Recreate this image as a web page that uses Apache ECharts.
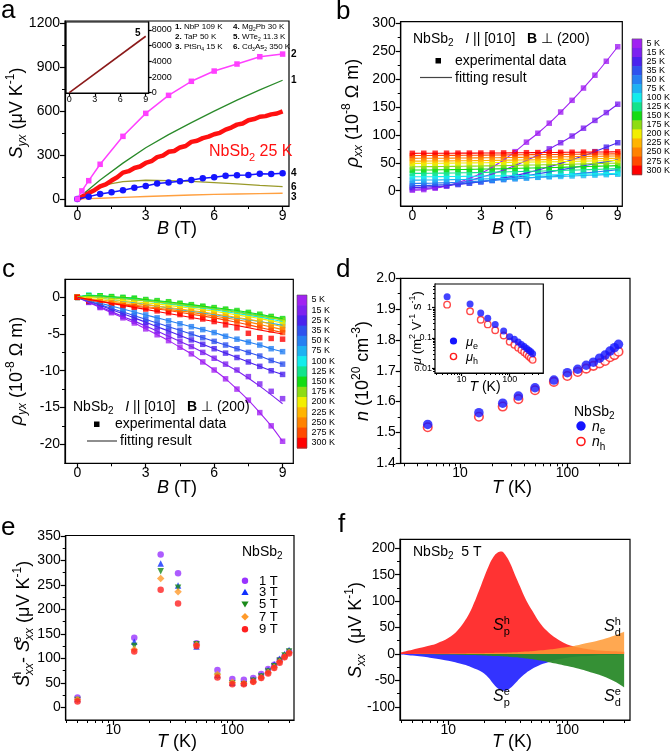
<!DOCTYPE html>
<html><head><meta charset="utf-8">
<script src="https://cdn.jsdelivr.net/npm/echarts@6/dist/echarts.min.js"></script>
<style>html,body{margin:0;padding:0;background:#fff}#c{width:670px;height:754px}</style>
</head><body><div id="c"></div>
<script>
// ================= DATA =================
// panel a
const fieldA2 = [0,0.2,0.5,1,2,3,4,5,6,7,8,9];
const syxTaP = [0,55,125,237,428,585,708,804,874,922,972,990];
const fieldA1 = [0,1,2,3,4,5,6,7,8,9];
const syxNbP = [0,130,245,350,440,522,600,675,745,811];
const fieldA6 = [0,0.5,1,1.5,2,3,4,5,6,7,8,9];
const syxCd3As2 = [0,45,84,105,118,128,126,120,112,103,93,84];
const fieldA3 = [0,0.5,1,2,3,4,5,6,7,8,9];
const syxPtSn4 = [0,2,5,11,17,22,27,31,34,37,39];
const fieldA4 = [0,0.5,1,1.5,2,2.5,3,3.5,4,4.5,5,5.5,6,6.5,7,7.5,8,8.5,9];
const syxMg2Pb = [0,16,34,46,59,77,89,105,112,121,130,141,148,159,162,164,173,171,175];
const fieldNb = [0,0.25,0.5,0.75,1,1.25,1.5,1.75,2,2.25,2.5,2.75,3,3.25,3.5,3.75,4,4.25,4.5,4.75,5,5.25,5.5,5.75,6,6.25,6.5,6.75,7,7.25,7.5,7.75,8,8.25,8.5,8.75,9];
const syxNbSb2 = [0,18,40,60,86,100,126,148,180,190,212,222,246,258,286,296,322,328,352,362,390,398,416,426,442,452,474,488,508,516,538,546,562,566,578,584,598];
const fieldA5 = [0,9];
const syxWTe2 = [0,7200];

// panels b, c
const temps = ['5 K','15 K','25 K','35 K','50 K','75 K','100 K','125 K','150 K','175 K','200 K','225 K','250 K','275 K','300 K'];
const fieldB = [0,0.5,1,1.5,2,2.5,3,3.5,4,4.5,5,5.5,6,6.5,7,7.5,8,8.5,9];
const rxx5 = [1,2,4.5,8.5,14.5,22,31,42,55,70,87,103,121,141,162,184,207,232,258];
const rxx15 = [3,4,6,9,13,18,24,30,37,45,54,64,75,86,98,112,126,140,155];
const rxx25 = [6,6.5,7.5,9,11,13.5,16,19.5,23,27,31.5,37,43,49,55.5,62.5,70,78,86];
const rxx35 = [9,9.3,10,11,12.3,14,16,18.3,21,24,27,30.3,33.7,37.3,41,44.7,48.5,52,55.5];
const rxx50 = [13,13.2,13.7,14.4,15.2,16.2,17.3,18.5,19.8,21.2,22.7,24.3,26,27.8,29.6,31.5,33.5,35.5,37.5];
const rxx75 = [19,19.1,19.3,19.6,20,20.4,20.9,21.4,22,22.6,23.3,24,24.8,25.6,26.4,27.2,28,28.8,29.6];
const rxx100 = [25,25.1,25.2,25.4,25.6,25.9,26.2,26.5,26.8,27.1,27.5,27.9,28.3,28.7,29.2,29.7,30.2,30.7,31.2];
const rxx125 = [31,31.1,31.3,31.6,31.9,32.3,32.7,33.1,33.6,34.1,34.6,35.1,35.7,36.3,36.9,37.5,38.2,38.9,39.6];
const rxx150 = [37,37.1,37.3,37.6,37.9,38.2,38.6,39,39.4,39.9,40.4,40.9,41.4,41.9,42.5,43.1,43.7,44.3,45];
const rxx175 = [43,43.1,43.2,43.4,43.7,44,44.3,44.6,45,45.4,45.8,46.2,46.6,47,47.5,48,48.5,49,49.5];
const rxx200 = [49,49.1,49.2,49.4,49.6,49.8,50,50.3,50.6,50.9,51.2,51.5,51.8,52.2,52.6,53,53.4,53.8,54.2];
const rxx225 = [53,53.1,53.2,53.4,53.6,53.8,54,54.3,54.6,54.9,55.2,55.5,55.8,56.2,56.6,57,57.4,57.8,58.2];
const rxx250 = [58,58.1,58.2,58.3,58.5,58.7,58.9,59.1,59.3,59.6,59.9,60.2,60.5,60.8,61.1,61.4,61.7,62,62.3];
const rxx275 = [63,63.1,63.2,63.3,63.4,63.5,63.7,63.9,64.1,64.3,64.5,64.7,64.9,65.1,65.3,65.5,65.7,65.9,66.1];
const rxx300 = [67,67.1,67.1,67.2,67.3,67.4,67.5,67.6,67.7,67.9,68.1,68.3,68.5,68.7,68.9,69.1,69.3,69.5,69.7];
const ryx5 = [0,-0.7,-1.4,-2.1,-2.8,-3.5,-4.3,-5.1,-5.9,-6.8,-7.7,-8.8,-9.9,-11.1,-12.5,-14.0,-15.7,-17.5,-19.6];
const ryx15 = [0,-0.65,-1.3,-1.95,-2.6,-3.25,-3.9,-4.6,-5.3,-6.0,-6.7,-7.5,-8.3,-9.1,-9.9,-10.8,-11.8,-12.8,-13.8];
const ryx25 = [0,-0.55,-1.1,-1.7,-2.25,-2.8,-3.4,-4.0,-4.6,-5.2,-5.8,-6.4,-7.0,-7.6,-8.2,-8.8,-9.4,-10.0,-10.5];
const ryx35 = [0,-0.5,-1.0,-1.5,-2.0,-2.5,-3.0,-3.5,-4.0,-4.5,-5.0,-5.5,-6.0,-6.5,-7.0,-7.5,-8.0,-8.6,-9.1];
const ryx50 = [0,-0.4,-0.8,-1.2,-1.6,-2.0,-2.4,-2.8,-3.2,-3.6,-4.0,-4.4,-4.8,-5.3,-5.7,-6.1,-6.5,-7.0,-7.4];
const ryx75 = [0,0.1,-0.1,-0.3,-0.5,-0.75,-1.0,-1.2,-1.45,-1.7,-1.9,-2.1,-2.35,-2.6,-2.85,-3.05,-3.3,-3.55,-3.8];
const ryx100 = [0,0.3,0.2,0.0,-0.15,-0.3,-0.5,-0.7,-0.9,-1.1,-1.3,-1.5,-1.7,-1.95,-2.2,-2.45,-2.7,-3.0,-3.3];
const ryx125 = [0,0.25,0.2,0.05,-0.1,-0.2,-0.4,-0.55,-0.7,-0.9,-1.1,-1.3,-1.5,-1.7,-1.95,-2.2,-2.45,-2.7,-3.0];
const ryx150 = [0,0.2,0.2,0.1,0,-0.1,-0.3,-0.45,-0.6,-0.8,-1.0,-1.2,-1.4,-1.6,-1.8,-2.05,-2.3,-2.6,-2.9];
const ryx175 = [0,0.1,0.05,-0.1,-0.2,-0.35,-0.5,-0.65,-0.8,-1.0,-1.2,-1.4,-1.6,-1.8,-2.05,-2.3,-2.55,-2.8,-3.1];
const ryx200 = [0,0.0,-0.15,-0.3,-0.45,-0.6,-0.75,-0.9,-1.1,-1.3,-1.5,-1.7,-1.9,-2.15,-2.4,-2.65,-2.9,-3.2,-3.5];
const ryx225 = [0,-0.2,-0.35,-0.5,-0.7,-0.85,-1.0,-1.2,-1.4,-1.6,-1.8,-2.0,-2.25,-2.5,-2.75,-3.0,-3.3,-3.65,-4.0];
const ryx250 = [0,-0.3,-0.5,-0.7,-0.9,-1.05,-1.25,-1.45,-1.65,-1.85,-2.05,-2.3,-2.55,-2.8,-3.05,-3.35,-3.7,-4.05,-4.4];
const ryx275 = [0,-0.4,-0.6,-0.8,-1.0,-1.2,-1.4,-1.6,-1.8,-2.05,-2.3,-2.55,-2.8,-3.1,-3.4,-3.75,-4.1,-4.45,-4.8];
const ryx300 = [0,-0.5,-0.75,-0.95,-1.15,-1.35,-1.6,-1.85,-2.1,-2.35,-2.65,-2.95,-3.3,-3.75,-4.15,-4.9,-5.5,-5.6,-5.7];
const fieldFit = [0,1,2,3,4,5,6,7,8,9];
const fitRyx15 = [0,-1.3,-2.6,-3.9,-5.3,-6.7,-8.3,-10.0,-12.1,-14.5];
const fitRyx300 = [0,-0.55,-1.1,-1.65,-2.2,-2.75,-3.3,-3.85,-4.45,-5.0];

// panel d
const tempD = [5,15,25,35,50,75,100,125,150,175,200,225,250,275,300];
const nE = [1.526,1.564,1.595,1.618,1.645,1.670,1.694,1.705,1.718,1.728,1.741,1.751,1.764,1.775,1.786];
const nH = [1.517,1.551,1.584,1.608,1.637,1.664,1.683,1.696,1.707,1.716,1.724,1.732,1.744,1.751,1.762];
const muE = [2.26,1.32,0.67,0.45,0.28,0.17,0.11,0.091,0.073,0.061,0.052,0.045,0.039,0.035,0.030];
const muH = [1.25,0.76,0.40,0.28,0.18,0.12,0.075,0.060,0.048,0.040,0.034,0.029,0.025,0.022,0.019];

// panel e
const tempE = [5,15,25,35,50,75,100,125,150,175,200,225,250,275,300];
const dS1T = [20,142,312,274,131,76,58,56,60,68,78,87,97,105,114];
const dS3T = [17,134,294,249,124,66,50,50,56,65,76,88,99,109,117];
const dS5T = [15,125,278,244,129,64,49,47,54,63,73,84,95,106,114];
const dS7T = [16,118,263,236,127,67,51,49,52,61,71,82,93,103,112];
const dS9T = [12,114,240,212,125,61,47,47,52,60,69,80,91,102,110];

// panel f
const tempF = [4,5,6,7,8,10,12,14,16,18,20,22,24,26,28,30,33,36,40,45,50,60,70,80,100,125,150,200,250,300];
const sPh = [3,8,12,16,20,30,45,65,90,118,145,168,184,192,194,188,172,152,128,102,84,56,40,30,18,12,9,6,5,4];
const sPe = [-1,-3,-5,-7,-9,-13,-17,-21,-26,-31,-37,-46,-57,-65,-69,-69.5,-65,-57,-46,-36,-29,-20,-15,-11,-7,-5,-4,-2,-2,-1];
const sDh = [0,0.1,0.2,0.3,0.4,0.5,0.7,0.9,1.1,1.3,1.5,1.7,1.9,2.1,2.3,2.5,2.9,3.3,3.8,4.5,5.2,6.8,8.5,10,13,17,21,28,35,42];
const sDe = [0,-0.3,-0.5,-0.7,-0.9,-1.2,-1.5,-1.8,-2.1,-2.5,-2.9,-3.3,-3.7,-4.1,-4.5,-5,-5.7,-6.4,-7.3,-8.4,-9.5,-12.5,-15.5,-18,-23,-28,-33,-42,-52,-63];

// tick values
const ticksA_x = [0,3,6,9], ticksA_y = [0,300,600,900,1200];
const ticksAi_y = [0,2000,4000,6000,8000];
const ticksB_y = [0,50,100,150,200,250,300];
const ticksC_y = [-20,-15,-10,-5,0];
const ticksD_y = [1.4,1.5,1.6,1.7,1.8,1.9,2.0];
const ticksLog = [10,100];
const ticksDi_y = [0.01,0.1,1];
const ticksE_y = [0,50,100,150,200,250,300,350];
const ticksF_y = [-100,-50,0,50,100,150,200];

// ================= STYLE / BUILD =================
const F = "'Liberation Sans', Arial, Helvetica, sans-serif";
const tempColors = ['#a122f2','#7d22f0','#4a22ee','#2f52ee','#2680f2','#1eb2f2','#12ecec','#12e38c','#14dc14','#8edc14','#f2ee00','#ffb400','#ff8200','#ff4a00','#ff0000'];
const logMinor = [3,4,5,6,7,8,9,20,30,40,50,60,70,80,90,200,300,400];
const logMinorY = [0.008,0.009,0.02,0.03,0.04,0.05,0.06,0.07,0.08,0.09,0.2,0.3,0.4,0.5,0.6,0.7,0.8,0.9,2,3,4,5];

const grids = [], xAxes = [], yAxes = [], series = [], G = [];
function grid(g){ grids.push(Object.assign({show:true, borderColor:'#000', borderWidth:1.2, backgroundColor:'#fff', containLabel:false, outerBoundsMode:'none'}, g)); return grids.length-1; }
function axis(arr, gi, c){
  const base = {gridIndex:gi, type:c.type||'value', min:c.min, max:c.max, position:c.pos, splitLine:{show:false}, minorTick:{show:false}, minorSplitLine:{show:false}};
  if (c.type === 'log') base.logBase = 10;
  const main = Object.assign({}, base, {
    axisLine:{show:true, onZero:false, lineStyle:{color:'#000', width:1.2}},
    axisTick:{show:true, inside:false, length:c.tl||5, lineStyle:{color:'#000', width:1.2}, customValues:c.majors},
    axisLabel:{show:c.noLabel?false:true, customValues:c.majors, margin:c.margin, color:'#000', fontSize:c.fs||14, fontFamily:F, hideOverlap:false, showMinLabel:true, showMaxLabel:true,
      formatter: c.fmt || (v => String(+(+v).toPrecision(6)))}
  });
  const idx = arr.length; arr.push(main);
  if (c.minors) arr.push(Object.assign({}, base, {axisLine:{show:false, onZero:false}, axisTick:{show:true, inside:false, length:c.ml||3, lineStyle:{color:'#000', width:1}, customValues:c.minors}, axisLabel:{show:false}}));
  return idx;
}
const P = (xs, ys) => xs.map((x,i)=>[x, ys[i]]);
function R(size, color){
  const s = Math.round(size*0.68), lh = Math.round(size*1.35), col = color||'#000';
  const b = {fontFamily:F, fill:col, color:col};
  return {
    n:Object.assign({fontSize:size, lineHeight:lh}, b),
    i:Object.assign({fontSize:size, lineHeight:lh, fontStyle:'italic'}, b),
    b:Object.assign({fontSize:size, lineHeight:lh, fontWeight:'bold'}, b),
    sb:Object.assign({fontSize:s, lineHeight:s, verticalAlign:'bottom'}, b),
    isb:Object.assign({fontSize:s, lineHeight:s, verticalAlign:'bottom', fontStyle:'italic'}, b),
    sp:Object.assign({fontSize:s, lineHeight:s, verticalAlign:'top'}, b),
    spw:Object.assign({fontSize:s, lineHeight:s, verticalAlign:'top', width:0.1, align:'left'}, b)
  };
}
function T(x, y, text, size, o){
  o = o||{};
  G.push({type:'text', x:x, y:y, rotation:o.rot||0, z:100, silent:true,
    style:{text:text, rich:R(size, o.color), fontSize:size, fontFamily:F, fontWeight:o.bold?'bold':'normal', fill:o.color||'#000', align:o.align||'left', verticalAlign:o.va||'middle'}});
}

// ---------- panel a ----------
const gA = grid({left:65, top:21, width:224, height:185});
const xa = axis(xAxes, gA, {min:-0.54, max:9.28, pos:'bottom', majors:ticksA_x, minors:[1.5,4.5,7.5], margin:3});
const ya = axis(yAxes, gA, {min:-48, max:1216, pos:'left', majors:ticksA_y, minors:[150,450,750,1050], margin:5});
const gAi = grid({left:66, top:22, width:82.7, height:71});
const xai = axis(xAxes, gAi, {min:-0.39, max:9.35, pos:'bottom', majors:ticksA_x, margin:2, fs:9, tl:3});
const yai = axis(yAxes, gAi, {min:-38, max:9020, pos:'right', majors:ticksAi_y, margin:3, fs:9, tl:3});
function lineA(xs, ys, color, w, sym, ss, xi, yi){
  series.push({type:'line', xAxisIndex:xi===undefined?xa:xi, yAxisIndex:yi===undefined?ya:yi, data:P(xs, ys), symbol:sym||'none', symbolSize:ss||5, showSymbol:!!sym,
    lineStyle:{color:color, width:w}, itemStyle:{color:color}, silent:true, z:3});
}
lineA(fieldA3, syxPtSn4, '#ffa040', 1.3);
lineA(fieldA6, syxCd3As2, '#9a9a2a', 1.3);
lineA(fieldA1, syxNbP, '#2a8a2a', 1.3);
lineA(fieldNb, syxNbSb2, '#ff1010', 4.5);
lineA(fieldA4, syxMg2Pb, '#1515ff', 1.5, 'circle', 6.5);
lineA(fieldA2, syxTaP, '#ff40ff', 1.5, 'rect', 5.5);
lineA(fieldA5, syxWTe2, '#8b1a1a', 1.6, null, 0, xai, yai);

T(1, 11, 'a', 26);
T(17, 113, '{i|S}{isb|yx}{n| (μV K}{sp|-1}{n|)}', 18, {rot:Math.PI/2, align:'center'});
T(177, 229, '{i|B}{n| (T)}', 18, {align:'center'});
T(209, 152, '{n|NbSb}{sb|2}{n| 25 K}', 16, {color:'#ff1010'});
[['2',54],['1',80],['4',173],['6',187],['3',197]].forEach(d=>T(291, d[1], d[0], 10, {bold:true}));
T(135, 33, '5', 10, {bold:true});
T(175, 27, '{b|1. }{n|NbP 109 K}', 8);
T(233, 27, '{b|4. }{n|Mg}{sb|2}{n|Pb 30 K}', 8);
T(175, 37, '{b|2. }{n|TaP 50 K}', 8);
T(233, 37, '{b|5. }{n|WTe}{sb|2}{n| 11.3 K}', 8);
T(175, 47, '{b|3. }{n|PtSn}{sb|4}{n| 15 K}', 8);
T(233, 47, '{b|6. }{n|Cd}{sb|3}{n|As}{sb|2}{n| 350 K}', 8);

// ---------- panel b ----------
const gB = grid({left:400.7, top:21.7, width:221.6, height:184.3});
const xb = axis(xAxes, gB, {min:-0.51, max:9.2, pos:'bottom', majors:ticksA_x, minors:[1.5,4.5,7.5], margin:3});
const yb = axis(yAxes, gB, {min:-27.4, max:302.9, pos:'left', majors:ticksB_y, minors:[25,75,125,175,225,275], margin:5});
const rhoXX = [rxx5,rxx15,rxx25,rxx35,rxx50,rxx75,rxx100,rxx125,rxx150,rxx175,rxx200,rxx225,rxx250,rxx275,rxx300];
rhoXX.forEach((arr,i)=>series.push({type:'scatter', xAxisIndex:xb, yAxisIndex:yb, data:P(fieldB, arr), symbol:'rect', symbolSize:5.5, itemStyle:{color:tempColors[i]}, silent:true, z:2}));
rhoXX.forEach((arr,i)=>series.push({type:'line', xAxisIndex:xb, yAxisIndex:yb, data:P(fieldB, arr), symbol:'none', smooth:0.3, lineStyle:{color:tempColors[i], width:1.1}, silent:true, z:3}));

T(336, 12, 'b', 26);
T(353, 113, '{i|ρ}{isb|xx}{n| (10}{sp|-8}{n| Ω m)}', 18, {rot:Math.PI/2, align:'center'});
T(512, 229, '{i|B}{n| (T)}', 18, {align:'center'});
T(413, 39, '{n|NbSb}{sb|2}{n|   }{i|I}{n| || [010]   }{b|B}{n| ⊥ (200)}', 14);
G.push({type:'rect', shape:{x:435.5, y:58, width:5.5, height:5.5}, style:{fill:'#000'}, z:100});
T(455, 61, 'experimental data', 14);
G.push({type:'line', shape:{x1:420, y1:77.5, x2:452, y2:77.5}, style:{stroke:'#444', lineWidth:1.2}, z:100});
T(455, 78, 'fitting result', 14);
temps.forEach((t,i)=>{
  G.push({type:'rect', shape:{x:632, y:38.9+i*9.05, width:10, height:9.6}, style:{fill:tempColors[i]}, z:50});
  T(646.5, 43.4+i*9.05, t, 9);
});
G.push({type:'rect', shape:{x:632, y:38.9, width:10, height:135.75}, style:{fill:'none', stroke:'#555', lineWidth:0.6}, z:51});

// ---------- panel c ----------
const gC = grid({left:65, top:279.3, width:228.3, height:184});
const xc = axis(xAxes, gC, {min:-0.54, max:9.47, pos:'bottom', majors:ticksA_x, minors:[1.5,4.5,7.5], margin:3});
const yc = axis(yAxes, gC, {min:-22.6, max:2.45, pos:'left', majors:ticksC_y, minors:[-17.5,-12.5,-7.5,-2.5], margin:5});
const rhoYX = [ryx5,ryx15,ryx25,ryx35,ryx50,ryx75,ryx100,ryx125,ryx150,ryx175,ryx200,ryx225,ryx250,ryx275,ryx300];
rhoYX.forEach((arr,i)=>series.push({type:'scatter', xAxisIndex:xc, yAxisIndex:yc, data:P(fieldB, arr), symbol:'rect', symbolSize:5.5, itemStyle:{color:tempColors[i]}, silent:true, z:2}));
rhoYX.forEach((arr,i)=>{
  let d = P(fieldB, arr);
  if (i === 1) d = P(fieldFit, fitRyx15);
  if (i === 14) d = P(fieldFit, fitRyx300);
  series.push({type:'line', xAxisIndex:xc, yAxisIndex:yc, data:d, symbol:'none', smooth:0.3, lineStyle:{color:tempColors[i], width:1.1}, silent:true, z:3});
});
T(2, 270, 'c', 26);
T(17, 371, '{i|ρ}{isb|yx}{n| (10}{sp|-8}{n| Ω m)}', 18, {rot:Math.PI/2, align:'center'});
T(177, 488, '{i|B}{n| (T)}', 18, {align:'center'});
T(73, 407, '{n|NbSb}{sb|2}{n|   }{i|I}{n| || [010]   }{b|B}{n| ⊥ (200)}', 14);
G.push({type:'rect', shape:{x:94, y:421.5, width:5.5, height:5.5}, style:{fill:'#000'}, z:100});
T(115, 424.5, 'experimental data', 14);
G.push({type:'line', shape:{x1:87, y1:441, x2:117, y2:441}, style:{stroke:'#444', lineWidth:1.2}, z:100});
T(120, 441.5, 'fitting result', 14);
temps.forEach((t,i)=>{
  G.push({type:'rect', shape:{x:297, y:295+i*10.2, width:10, height:10.8}, style:{fill:tempColors[i]}, z:50});
  T(311.5, 300+i*10.2, t, 9);
});
G.push({type:'rect', shape:{x:297, y:295, width:10, height:153}, style:{fill:'none', stroke:'#555', lineWidth:0.6}, z:51});

// ---------- panel d ----------
const gD = grid({left:400.7, top:278.3, width:229.3, height:185});
const xd = axis(xAxes, gD, {type:'log', min:2.8, max:384, pos:'bottom', majors:ticksLog, minors:logMinor.filter(v=>v<384), margin:3});
const yd = axis(yAxes, gD, {min:1.4, max:2.0, pos:'left', majors:ticksD_y, minors:[1.45,1.55,1.65,1.75,1.85,1.95], margin:5, fmt:v=>(+v).toFixed(1)});
series.push({type:'scatter', xAxisIndex:xd, yAxisIndex:yd, data:P(tempD, nH), symbol:'circle', symbolSize:8.5, itemStyle:{color:'#fff', borderColor:'#ff1a1a', borderWidth:1.6}, silent:true, z:3});
series.push({type:'scatter', xAxisIndex:xd, yAxisIndex:yd, data:P(tempD, nE), symbol:'circle', symbolSize:9.5, itemStyle:{color:'#1414ff'}, silent:true, z:4});
const gDi = grid({left:435, top:284, width:108.3, height:89, z:5});
const xdi = axis(xAxes, gDi, {type:'log', min:2.8, max:500, pos:'bottom', majors:ticksLog, minors:logMinor, margin:2, fs:9, tl:3, ml:2});
const ydi = axis(yAxes, gDi, {type:'log', min:0.007, max:6, pos:'left', majors:ticksDi_y, minors:logMinorY, margin:3, fs:9, tl:3, ml:2});
series.push({type:'scatter', xAxisIndex:xdi, yAxisIndex:ydi, data:P(tempD, muH), symbol:'circle', symbolSize:6.5, itemStyle:{color:'#fff', borderColor:'#ff1a1a', borderWidth:1.4}, silent:true, z:6});
series.push({type:'scatter', xAxisIndex:xdi, yAxisIndex:ydi, data:P(tempD, muE), symbol:'circle', symbolSize:7, itemStyle:{color:'#1414ff'}, silent:true, z:7});
T(336, 270, 'd', 26);
T(363, 371, '{i|n}{n| (10}{sp|20}{n| cm}{sp|-3}{n|)}', 18, {rot:Math.PI/2, align:'center'});
T(512, 488, '{i|T}{n| (K)}', 18, {align:'center'});
T(417, 328, '{i|μ}{n| (m}{sp|2}{n| V}{sp|-1}{n| s}{sp|-1}{n|)}', 13, {rot:Math.PI/2, align:'center'});
T(485, 387, '{i|T}{n| (K)}', 14, {align:'center'});
G.push({type:'circle', shape:{cx:453.5, cy:341, r:3.6}, style:{fill:'#1414ff'}, z:100});
T(466, 342, '{i|μ}{sb|e}', 13);
G.push({type:'circle', shape:{cx:453.5, cy:356.5, r:3.1}, style:{fill:'#fff', stroke:'#ff1a1a', lineWidth:1.4}, z:100});
T(466, 357.5, '{i|μ}{sb|h}', 13);
T(574, 412, '{n|NbSb}{sb|2}', 14);
G.push({type:'circle', shape:{cx:581, cy:426, r:4.7}, style:{fill:'#1414ff'}, z:100});
T(592, 427, '{i|n}{sb|e}', 14);
G.push({type:'circle', shape:{cx:581, cy:441.5, r:4}, style:{fill:'#fff', stroke:'#ff1a1a', lineWidth:1.6}, z:100});
T(592, 442.5, '{i|n}{sb|h}', 14);

// ---------- panel e ----------
const gE = grid({left:65.7, top:535.5, width:228.3, height:184.5});
const xe = axis(xAxes, gE, {type:'log', min:3.98, max:330, pos:'bottom', majors:ticksLog, minors:logMinor.filter(v=>v>=4&&v<330), margin:3});
const ye = axis(yAxes, gE, {min:-26, max:351, pos:'left', majors:ticksE_y, minors:[25,75,125,175,225,275,325], margin:5});
const eSets = [[dS1T,'#9933ff','circle',6.5,0],[dS3T,'#1030ff','triangle',6.5,0],[dS5T,'#1a8a1a','triangle',6.5,180],[dS7T,'#ff9a2a','diamond',7.5,0],[dS9T,'#ff2020','circle',6.5,0]];
eSets.forEach(s=>series.push({type:'scatter', xAxisIndex:xe, yAxisIndex:ye, data:P(tempE, s[0]), symbol:s[2], symbolSize:s[3], symbolRotate:s[4], itemStyle:{color:s[1]}, silent:true, z:3}));
T(1, 528, 'e', 26);
T(24, 624, '{i|S}{spw|h}{isb|xx}{n|- }{i|S}{spw|e}{isb|xx}{n| (μV K}{sp|-1}{n|)}', 18, {rot:Math.PI/2, align:'center'});
T(177, 742, '{i|T}{n| (K)}', 18, {align:'center'});
T(242, 552, '{n|NbSb}{sb|2}', 14);
const legY = [580.7,592.3,604,616.7,629.3], legT = ['1 T','3 T','5 T','7 T','9 T'];
G.push({type:'circle', shape:{cx:245, cy:legY[0], r:3.2}, style:{fill:'#9933ff'}, z:100});
G.push({type:'polygon', shape:{points:[[245,legY[1]-3.6],[241.4,legY[1]+2.6],[248.6,legY[1]+2.6]]}, style:{fill:'#1030ff'}, z:100});
G.push({type:'polygon', shape:{points:[[245,legY[2]+3.6],[241.4,legY[2]-2.6],[248.6,legY[2]-2.6]]}, style:{fill:'#1a8a1a'}, z:100});
G.push({type:'polygon', shape:{points:[[245,legY[3]-3.8],[248.8,legY[3]],[245,legY[3]+3.8],[241.2,legY[3]]]}, style:{fill:'#ff9a2a'}, z:100});
G.push({type:'circle', shape:{cx:245, cy:legY[4], r:3.2}, style:{fill:'#ff2020'}, z:100});
legT.forEach((t,i)=>T(259, legY[i]+0.5, t, 13));

// ---------- panel f ----------
const gF = grid({left:400, top:539.3, width:230, height:180.7});
const xf = axis(xAxes, gF, {type:'log', min:3.93, max:336, pos:'bottom', majors:ticksLog, minors:logMinor.filter(v=>v>=4&&v<336), margin:3});
const yf = axis(yAxes, gF, {min:-125, max:217, pos:'left', majors:ticksF_y, minors:[-75,-25,25,75,125,175], margin:5});
function area(ys, color, op, z){
  series.push({type:'line', xAxisIndex:xf, yAxisIndex:yf, data:P(tempF, ys), symbol:'none', smooth:0.4, lineStyle:{width:0}, areaStyle:{color:color, opacity:op}, silent:true, z:z});
}
area(sPe, '#3333ff', 1, 2);
area(sDe, '#2a8a2a', 0.95, 3);
area(sPh, '#ff3333', 1, 2);
area(sDh, '#ff9933', 0.85, 3);
T(338, 525, 'f', 26);
T(356, 630, '{i|S}{isb|xx}{n|  (μV K}{sp|-1}{n|)}', 18, {rot:Math.PI/2, align:'center'});
T(512, 742, '{i|T}{n| (K)}', 18, {align:'center'});
T(413, 552, '{n|NbSb}{sb|2}{n|  5 T}', 14);
T(493, 626, '{i|S}{spw|h}{sb|p}', 16);
T(493, 697, '{i|S}{spw|e}{sb|p}', 16);
T(604, 627, '{i|S}{spw|h}{sb|d}', 16);
T(604, 697, '{i|S}{spw|e}{sb|d}', 16);

const chart = echarts.init(document.getElementById('c'), null, {renderer:'canvas'});
chart.setOption({animation:false, backgroundColor:'#fff', grid:grids, xAxis:xAxes, yAxis:yAxes, series:series, graphic:{elements:G}});
</script></body></html>
